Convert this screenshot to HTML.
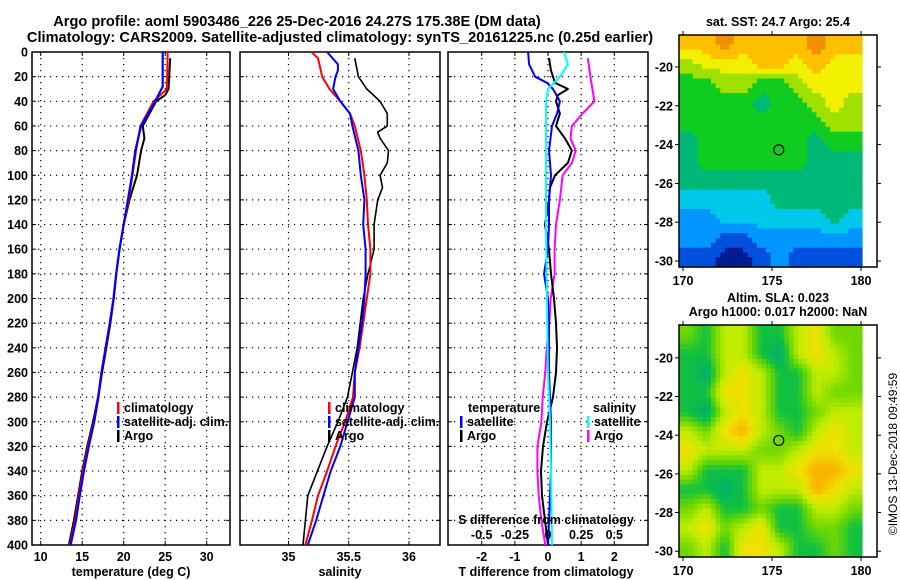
<!DOCTYPE html>
<html><head><meta charset="utf-8"><style>
html,body{margin:0;padding:0;background:#fff}
svg{display:block}
text{font-family:"Liberation Sans",sans-serif;font-weight:bold;font-size:12.5px;fill:#000}
</style></head><body>
<svg id="c" width="900" height="580" viewBox="0 0 900 580" xmlns="http://www.w3.org/2000/svg">
<text x="297" y="26" text-anchor="middle" style="font-size:14.6px">Argo profile: aoml 5903486_226 25-Dec-2016 24.27S 175.38E (DM data)</text>
<text x="340" y="42" text-anchor="middle" style="font-size:14.6px">Climatology: CARS2009. Satellite-adjusted climatology: synTS_20161225.nc (0.25d earlier)</text>
<text x="778" y="26" text-anchor="middle">sat. SST: 24.7 Argo: 25.4</text>
<text x="778" y="302" text-anchor="middle">Altim. SLA: 0.023</text>
<text x="778" y="316" text-anchor="middle">Argo h1000: 0.017 h2000: NaN</text>
<text x="0" y="0" transform="translate(897,454) rotate(-90)" text-anchor="middle" style="font-weight:normal;font-size:12px">©IMOS 13-Dec-2018 09:49:59</text>
<g id="layer"></g>
</svg>
<script>
// ---- profile data ----
const tClimDepth=[0,30,40,60,80,100,120,140,160,180,200,220,240,260,280,300,320,340,360,380,400];
const tClim=[25.3,25.2,23.6,22.0,21.5,21.05,20.6,20.0,19.5,19.1,18.75,18.3,17.8,17.3,16.9,16.4,15.7,15.1,14.6,14.15,13.5];
const tSatDepth=[0,28,40,60,80,100,120,140,160,180,200,220,240,260,280,300,320,340,360,380,400];
const tSat=[24.7,24.7,23.8,22.1,21.4,21.0,20.5,20.0,19.5,19.1,18.8,18.35,17.85,17.35,16.95,16.45,15.8,15.2,14.7,14.25,13.6];
const tArgoDepth=[5,30,35,40,60,70,80,100,120,140,160,180,200,220,240,260,280,300,320,340,360,380,400];
const tArgo=[25.6,25.4,25.0,23.9,22.3,22.5,22.1,21.6,20.7,20.0,19.5,19.1,18.8,18.4,17.9,17.4,16.9,16.3,15.6,15.0,14.5,14.0,13.4];
const sClimDepth=[0,5,20,30,40,50,60,80,100,120,140,160,180,200,220,240,260,280,300,320,340,360,380,400];
const sClim=[35.19,35.245,35.28,35.34,35.43,35.51,35.55,35.60,35.63,35.65,35.66,35.68,35.68,35.65,35.62,35.59,35.55,35.535,35.47,35.39,35.32,35.245,35.195,35.14];
const sSatDepth=[0,10,15,20,30,40,50,60,80,100,120,140,160,180,200,220,240,260,280,300,320,340,360,380,400];
const sSat=[35.32,35.41,35.41,35.39,35.37,35.43,35.51,35.53,35.58,35.60,35.63,35.62,35.64,35.64,35.63,35.61,35.58,35.55,35.55,35.49,35.43,35.35,35.29,35.23,35.16];
const sArgoDepth=[5,20,30,40,50,60,65,70,80,90,100,110,120,140,160,180,200,220,240,260,280,300,320,340,360,380,400];
const sArgo=[35.55,35.58,35.65,35.76,35.82,35.82,35.74,35.76,35.83,35.82,35.76,35.78,35.74,35.71,35.71,35.66,35.62,35.595,35.57,35.53,35.49,35.41,35.32,35.24,35.16,35.14,35.12];
const dTSatDepth=[0,10,20,25,30,40,50,60,80,100,120,140,160,180,200,220,260,300,340,400];
const dTSat=[-0.6,-0.57,-0.39,-0.03,0.15,0.36,0.27,0.12,0.03,0.09,0.03,0.03,0,-0.12,0,0.03,0.03,0.09,0.09,0];
const dTArgoDepth=[5,15,25,30,35,40,50,60,70,80,90,100,110,120,140,160,180,200,220,240,260,280,300,320,340,360,380,400];
const dTArgo=[0.03,0.09,0.21,0.6,0.3,0.24,0.36,0.24,0.51,0.72,0.6,0.21,0.06,0.03,-0.09,0.03,0.09,0.18,0.24,0.27,0.24,0.15,-0.03,-0.15,-0.21,-0.18,-0.09,0];
const dSSatDepth=[0,10,20,30,40,60,100,140,200,260,300,340,400];
const dSSat=[0.12,0.15,0.09,0,-0.015,-0.015,-0.015,-0.015,-0.008,0,0.015,0.023,0.03];
const dSArgoDepth=[5,20,40,50,60,70,80,90,100,120,140,160,180,200,220,240,260,280,300,320,340,360,380,400];
const dSArgo=[0.30,0.32,0.35,0.26,0.18,0.17,0.21,0.18,0.11,0.09,0.06,0.05,0.05,0.02,0.01,-0.01,-0.02,-0.04,-0.05,-0.08,-0.08,-0.07,-0.05,-0.02];
const depthTicks=[0,20,40,60,80,100,120,140,160,180,200,220,240,260,280,300,320,340,360,380,400];
const tTicks=[10,15,20,25,30];
const sTicks=[35,35.5,36];
const dTTicks=[-2,-1,0,1,2];
const dSTickLabels=["-0.5","-0.25","0","0.25","0.5"];
const dSTicks=[-0.5,-0.25,0,0.25,0.5];
// ---- map data (coarse grid, rows north->south, cols west->east) ----
const sstGrid=[
[8,8,9,8,8,8,8,9,8,8],[6,7,7,7,8,8,7,8,7,7],[5,5,6,6,5,5,6,7,7,7],[5,5,5,5,4,5,5,6,7,6],
[5,5,5,5,5,5,5,5,6,6],[4,5,5,5,5,5,5,4,5,5],[4,5,5,5,5,5,5,4,4,4],[4,4,4,4,4,4,4,4,4,4],
[3,3,3,3,3,4,4,4,4,4],[2,2,3,3,3,3,3,3,4,3],[2,2,1,1,2,2,2,2,2,2],[1,1,0,0,1,2,1,1,1,1]];
const sstColors=["#001a90","#0050e0","#0096ff","#00c8e8","#00b878","#10cc20","#a0e000","#f0f000","#ffc000","#f09000"];
const slaGrid=[
[2,1,3,3,1,1,3,4,2,2],[1,1,3,3,1,0,3,4,3,2],[1,0,3,4,3,1,1,3,3,2],[1,1,4,4,3,1,1,3,2,2],
[1,0,3,4,3,1,1,2,3,3],[3,2,4,5,3,2,1,3,4,3],[4,3,3,3,2,2,3,4,4,3],[3,1,1,1,3,3,4,5,5,4],
[1,1,0,1,3,3,3,5,4,3],[2,3,1,1,2,1,1,3,3,2],[3,4,2,3,4,1,1,2,2,1],[2,3,1,4,4,3,1,1,2,1]];
const slaColors=["#00b070","#10c040","#70d800","#c0ec00","#f0e000","#f8b000"];
const mapLonTicks=[170,175,180];
const mapLatTicks=[-20,-22,-24,-26,-28,-30];
const argoLon=175.38, argoLat=-24.27;

const NS="http://www.w3.org/2000/svg";
const layer=document.getElementById('layer');
function el(tag,attrs,parent){const e=document.createElementNS(NS,tag);for(const k in attrs)e.setAttribute(k,attrs[k]);(parent||layer).appendChild(e);return e;}
function txt(x,y,s,anchor,parent){const t=el('text',{x:x,y:y,'text-anchor':anchor||'middle'},parent);t.textContent=s;return t;}

const Y0=52,Y1=545;
const yD=d=>Y0+(d/400)*(Y1-Y0);
function lin(d0,d1,r0,r1){return v=>r0+(v-d0)/(d1-d0)*(r1-r0);}

function panel(name,x0,x1,xs,ticks,labels,showY){
  const g=el('g',{});
  
  
  depthTicks.forEach(d=>{ if(d>0&&d<400){const l=el('line',{x1:x0,x2:x1,y1:yD(d),y2:yD(d),stroke:'#000','stroke-width':1.2,'stroke-dasharray':'1.2 4.8'},g);}
    el('line',{x1:x0,x2:x0+4,y1:yD(d),y2:yD(d),stroke:'#000'},g);el('line',{x1:x1-4,x2:x1,y1:yD(d),y2:yD(d),stroke:'#000'},g);
    if(showY){const t=txt(28,yD(d)+4.5,String(d),'end',g);}
  });
  ticks.forEach((v,i)=>{const x=xs(v);
    const l=el('line',{x1:x,x2:x,y1:Y0,y2:Y1,stroke:'#000','stroke-width':1.2,'stroke-dasharray':'1.2 4.8'},g);
    
    el('line',{x1:x,x2:x,y1:Y1-4,y2:Y1,stroke:'#000'},g);el('line',{x1:x,x2:x,y1:Y0,y2:Y0+4,stroke:'#000'},g);
    const t=txt(x,561,labels[i],'middle',g);
  });
  const r=el('rect',{x:x0,y:Y0,width:x1-x0,height:Y1-Y0,fill:'none',stroke:'#000','stroke-width':1.5},g);
  
  return g;
}
function line(g,depths,vals,xs,color,w,name){
  const pts=depths.map((d,i)=>xs(vals[i]).toFixed(1)+','+yD(d).toFixed(1)).join(' ');
  const p=el('polyline',{points:pts,fill:'none',stroke:color,'stroke-width':w,'stroke-linejoin':'round'},g);
  
  
}
function legend(g,x,y,items){
  items.forEach((it,i)=>{const yy=y+i*14;
    el('rect',{x:x,y:yy-10,width:2.5,height:12,fill:it[1]},g);
    const t=txt(x+7,yy,it[0],'start',g);
    
    
  });
}
// Panel 1
const xT=lin(10,30,40.7,206.7);
const g1=panel('temperature-panel',32,230,xT,tTicks,tTicks.map(String),true);
line(g1,tArgoDepth,tArgo,xT,'#000',2,'argo-temperature-line');
line(g1,tClimDepth,tClim,xT,'#f00',2,'climatology-temperature-line');
line(g1,tSatDepth,tSat,xT,'#00f',2.2,'satellite-temperature-line');
legend(g1,117,412,[['climatology','#f00'],['satellite-adj. clim.','#00f'],['Argo','#000']]);
const a1=txt(131,576,'temperature (deg C)','middle',g1);
// Panel 2
const xS=lin(35,36,288.5,409);
const g2=panel('salinity-panel',240,440,xS,sTicks,['35','35.5','36'],false);
line(g2,sArgoDepth,sArgo,xS,'#000',1.6,'argo-salinity-line');
line(g2,sClimDepth,sClim,xS,'#f00',2,'climatology-salinity-line');
line(g2,sSatDepth,sSat,xS,'#00f',2,'satellite-salinity-line');
legend(g2,328,412,[['climatology','#f00'],['satellite-adj. clim.','#00f'],['Argo','#000']]);
const a2=txt(340,576,'salinity','middle',g2);
// Panel 3
const xDT=lin(-2,2,481.7,614.3);
const xDS=lin(-0.5,0.5,481.7,614.3);
const g3=panel('difference-panel',448,648,xDT,dTTicks,dTTicks.map(String),false);
line(g3,dSArgoDepth,dSArgo,xDS,'#f0f',2,'argo-salinity-diff-line');
line(g3,dTArgoDepth,dTArgo,xDT,'#000',2,'argo-temperature-diff-line');
line(g3,dTSatDepth,dTSat,xDT,'#00f',2,'satellite-temperature-diff-line');
line(g3,dSSatDepth,dSSat,xDS,'#0ff',2,'satellite-salinity-diff-line');
let lt=txt(468,412,'temperature','start',g3);
legend(g3,460,426,[['satellite','#00f'],['Argo','#000']]);
let ls=txt(593,412,'salinity','start',g3);
legend(g3,587,426,[['satellite','#0ff'],['Argo','#f0f']]);
let st=txt(546,524,'S difference from climatology','middle',g3);
dSTicks.forEach((v,i)=>{const t=txt(xDS(v),539,dSTickLabels[i],'middle',g3);});
const a3=txt(546,576,'T difference from climatology','middle',g3);

// Maps
function hex(c){return [parseInt(c.slice(1,3),16),parseInt(c.slice(3,5),16),parseInt(c.slice(5,7),16)];}
function ramp(colors,v,smooth){
  if(!smooth){return colors[Math.max(0,Math.min(colors.length-1,Math.round(v)))];}
  v=Math.max(0,Math.min(colors.length-1,v));const i=Math.min(colors.length-2,Math.floor(v)),f=v-i;
  const a=hex(colors[i]),b=hex(colors[i+1]);
  return 'rgb('+a.map((x,k)=>Math.round(x+(b[k]-x)*f)).join(',')+')';
}
function sample(grid,fr,fc){
  const rows=grid.length,cols=grid[0].length;
  fr=Math.max(0,Math.min(rows-1,fr));fc=Math.max(0,Math.min(cols-1,fc));
  const r0=Math.floor(fr),c0=Math.floor(fc),r1=Math.min(rows-1,r0+1),c1=Math.min(cols-1,c0+1);
  const a=fr-r0,b=fc-c0;
  return grid[r0][c0]*(1-a)*(1-b)+grid[r0][c1]*(1-a)*b+grid[r1][c0]*a*(1-b)+grid[r1][c1]*a*b;
}
function map(name,grid,colors,top,bot,latTop,latBot,smooth,sub){
  const g=el('g',{});
  
  
  const L=679,R=877,IR=862;
  const mx=lin(170,180,683,861), my=lin(latTop,latBot,top,bot);
  const rows=grid.length, cols=grid[0].length;
  const NR=rows*sub, NC=cols*sub;
  const cw=(IR-L)/NC, ch=(bot-top)/NR;
  for(let r=0;r<NR;r++)for(let c=0;c<NC;c++){
    const v=sample(grid,(r+0.5)/sub-0.5,(c+0.5)/sub-0.5);
    const rc=el('rect',{x:(L+c*cw).toFixed(1),y:(top+r*ch).toFixed(1),width:(cw+0.6).toFixed(1),height:(ch+0.6).toFixed(1),fill:ramp(colors,v,smooth)},g);
    
    
  }
  const fr=el('rect',{x:L,y:top,width:R-L,height:bot-top,fill:'none',stroke:'#000','stroke-width':1.5},g);
  
  mapLonTicks.forEach(v=>{const x=mx(v);el('line',{x1:x,x2:x,y1:bot,y2:bot+4,stroke:'#000'},g);el('line',{x1:x,x2:x,y1:top-4,y2:top,stroke:'#000'},g);
    const t=txt(x,bot+18,String(v),'middle',g);});
  mapLatTicks.forEach(v=>{const y=my(v);el('line',{x1:L-4,x2:L,y1:y,y2:y,stroke:'#000'},g);el('line',{x1:R,x2:R+4,y1:y,y2:y,stroke:'#000'},g);
    const t=txt(673,y+4.5,String(v),'end',g);});
  const ci=el('circle',{cx:mx(argoLon),cy:my(argoLat),r:5,fill:'none',stroke:'#000','stroke-width':1.2},g);
  
}
map('sst-map',sstGrid,sstColors,35,267,-18.35,-30.31,false,4);
map('sla-map',slaGrid,slaColors,325,557,-18.3,-30.3,true,4);
</script>
</body></html>
